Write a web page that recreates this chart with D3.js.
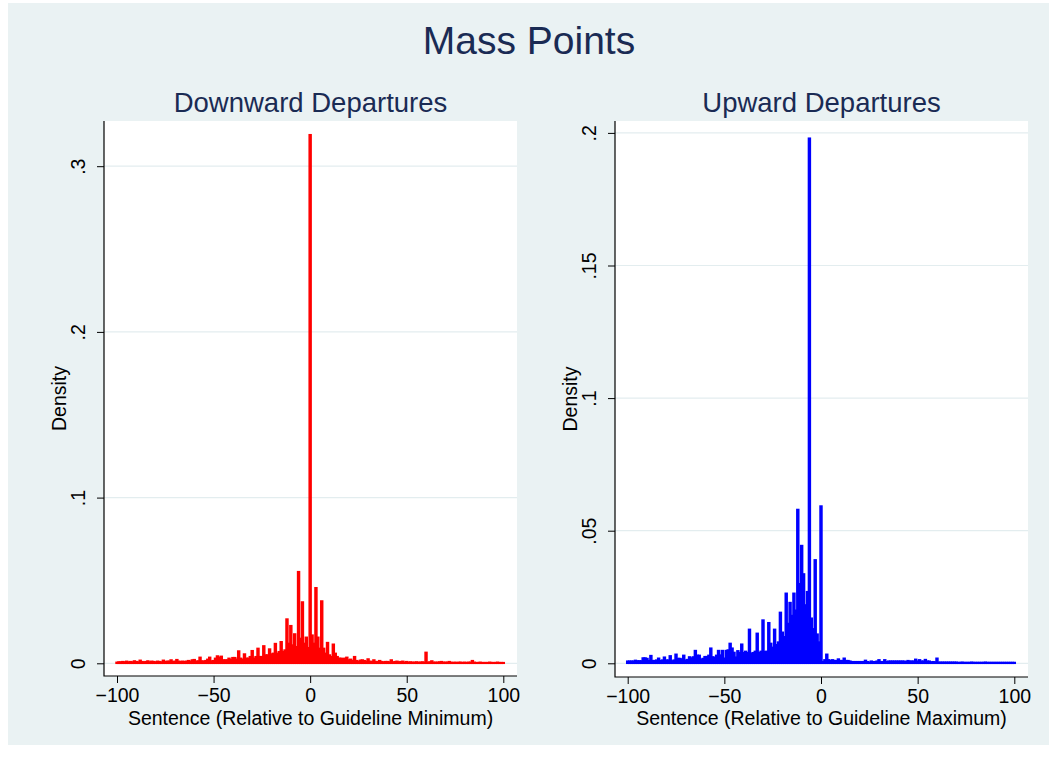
<!DOCTYPE html>
<html>
<head>
<meta charset="utf-8">
<script src="https://d3js.org/d3.v7.min.js"></script>
<style>
    body { margin: 0; background: #ffffff; }
    svg text { font-family: "Liberation Sans", Arial, Helvetica, sans-serif; }
</style>
</head>
<body>
<svg id="chart" width="1058" height="769"></svg>
<script>
//Values, one bar per integer from -100 to 100
var bins = d3.range(-100, 101);

//Downward departures, density per bin (relative to guideline minimum)
var downValues = [
    0.0006, 0.0008, 0.0008, 0.0010, 0.0008, 0.0012, 0.0008, 0.0010, 0.0008, 0.0014,
    0.0010, 0.0008, 0.0018, 0.0010, 0.0008, 0.0010, 0.0014, 0.0008, 0.0012, 0.0010,
    0.0008, 0.0012, 0.0010, 0.0008, 0.0018, 0.0010, 0.0012, 0.0012, 0.0020, 0.0010,
    0.0012, 0.0022, 0.0012, 0.0010, 0.0012, 0.0010, 0.0012, 0.0016, 0.0012, 0.0020,
    0.0022, 0.0012, 0.0014, 0.0036, 0.0014, 0.0012, 0.0016, 0.0024, 0.0036, 0.0014,
    0.0016, 0.0030, 0.0044, 0.0036, 0.0042, 0.0020, 0.0020, 0.0020, 0.0030, 0.0022,
    0.0034, 0.0034, 0.0024, 0.0074, 0.0030, 0.0024, 0.0056, 0.0030, 0.0030, 0.0040,
    0.0076, 0.0030, 0.0040, 0.0090, 0.0040, 0.0040, 0.0105, 0.0050, 0.0050, 0.0086,
    0.0056, 0.0060, 0.0119, 0.0060, 0.0070, 0.0130, 0.0070, 0.0080, 0.0267, 0.0120,
    0.0227, 0.0110, 0.0177, 0.0100, 0.0553, 0.0150, 0.0370, 0.0120, 0.0157, 0.0094,
    0.3190,
    0.0170, 0.0120, 0.0456, 0.0157, 0.0090, 0.0376, 0.0090, 0.0060, 0.0125, 0.0050,
    0.0040, 0.0115, 0.0060, 0.0040, 0.0030, 0.0030, 0.0028, 0.0030, 0.0036, 0.0020,
    0.0024, 0.0016, 0.0040, 0.0016, 0.0012, 0.0018, 0.0020, 0.0016, 0.0012, 0.0026,
    0.0012, 0.0010, 0.0020, 0.0010, 0.0010, 0.0016, 0.0010, 0.0008, 0.0010, 0.0010,
    0.0008, 0.0020, 0.0008, 0.0010, 0.0012, 0.0008, 0.0010, 0.0012, 0.0006, 0.0010,
    0.0006, 0.0008, 0.0006, 0.0006, 0.0008, 0.0006, 0.0006, 0.0008, 0.0006, 0.0066,
    0.0006, 0.0008, 0.0014, 0.0006, 0.0006, 0.0006, 0.0008, 0.0010, 0.0006, 0.0006,
    0.0006, 0.0010, 0.0006, 0.0004, 0.0006, 0.0004, 0.0006, 0.0006, 0.0004, 0.0006,
    0.0004, 0.0006, 0.0006, 0.0016, 0.0006, 0.0004, 0.0004, 0.0006, 0.0004, 0.0004,
    0.0004, 0.0004, 0.0006, 0.0004, 0.0004, 0.0004, 0.0006, 0.0004, 0.0004, 0.0004
];

//Upward departures, density per bin (relative to guideline maximum)
var upValues = [
    0.0008, 0.0008, 0.0008, 0.0008, 0.0011, 0.0009, 0.0009, 0.0009, 0.0020, 0.0020,
    0.0018, 0.0010, 0.0029, 0.0010, 0.0010, 0.0012, 0.0019, 0.0010, 0.0012, 0.0023,
    0.0012, 0.0012, 0.0028, 0.0009, 0.0012, 0.0034, 0.0018, 0.0018, 0.0016, 0.0030,
    0.0012, 0.0014, 0.0024, 0.0020, 0.0024, 0.0048, 0.0030, 0.0030, 0.0015, 0.0018,
    0.0025, 0.0025, 0.0030, 0.0057, 0.0024, 0.0022, 0.0030, 0.0048, 0.0031, 0.0048,
    0.0019, 0.0048, 0.0050, 0.0075, 0.0057, 0.0041, 0.0023, 0.0047, 0.0040, 0.0072,
    0.0040, 0.0045, 0.0040, 0.0128, 0.0038, 0.0040, 0.0045, 0.0113, 0.0040, 0.0045,
    0.0163, 0.0044, 0.0045, 0.0153, 0.0075, 0.0060, 0.0128, 0.0070, 0.0080, 0.0192,
    0.0117, 0.0100, 0.0264, 0.0150, 0.0229, 0.0180, 0.0264, 0.0200, 0.0580, 0.0300,
    0.0444, 0.0337, 0.0220, 0.0270, 0.1980, 0.0170, 0.0130, 0.0390, 0.0110, 0.0080,
    0.0593,
    0.0006, 0.0013, 0.0034, 0.0013, 0.0010, 0.0013, 0.0010, 0.0010, 0.0016, 0.0010,
    0.0010, 0.0019, 0.0010, 0.0010, 0.0008, 0.0006, 0.0006, 0.0006, 0.0006, 0.0006,
    0.0006, 0.0006, 0.0011, 0.0006, 0.0004, 0.0008, 0.0006, 0.0006, 0.0008, 0.0013,
    0.0006, 0.0006, 0.0013, 0.0006, 0.0008, 0.0008, 0.0008, 0.0008, 0.0008, 0.0008,
    0.0008, 0.0008, 0.0008, 0.0006, 0.0010, 0.0008, 0.0008, 0.0008, 0.0015, 0.0008,
    0.0013, 0.0008, 0.0008, 0.0014, 0.0008, 0.0008, 0.0005, 0.0006, 0.0005, 0.0019,
    0.0004, 0.0004, 0.0004, 0.0004, 0.0004, 0.0004, 0.0004, 0.0004, 0.0004, 0.0004,
    0.0003, 0.0003, 0.0004, 0.0003, 0.0003, 0.0003, 0.0003, 0.0004, 0.0003, 0.0003,
    0.0003, 0.0003, 0.0003, 0.0003, 0.0004, 0.0003, 0.0003, 0.0003, 0.0003, 0.0003,
    0.0003, 0.0003, 0.0003, 0.0003, 0.0003, 0.0003, 0.0003, 0.0003, 0.0003, 0.0003
];

var xTicks = [-100, -50, 0, 50, 100];
var downYTicks = [0, 0.1, 0.2, 0.3];
var upYTicks = [0, 0.05, 0.1, 0.15, 0.2];

var mainTitle = "Mass Points";
var panelTitles = ["Downward Departures", "Upward Departures"];
var xTitles = ["Sentence (Relative to Guideline Minimum)", "Sentence (Relative to Guideline Maximum)"];

var bgColor = "#eaf2f3";
var titleColor = "#1a2b54";

var svg = d3.select("#chart");

//Stata style light bluish graph region, with the page's white margin round it
svg.append("rect")
    .attr("x", 8).attr("y", 3)
    .attr("width", 1041).attr("height", 742)
    .attr("fill", bgColor);

svg.append("text")
    .text(mainTitle)
    .attr("x", 529)
    .attr("y", 54)
    .attr("text-anchor", "middle")
    .attr("font-size", 39)
    .attr("fill", titleColor);

//Stata drops the leading zero on the density labels
function stataNum(d){
    if(d == 0) return "0";
    return d3.format("~g")(d).replace(/^0\./, ".");
}

//Draws one histogram panel
function drawPanel(opts){
    var g = svg.append("g");
    var x0 = opts.box[0], y0 = opts.box[1], x1 = opts.box[2], y1 = opts.box[3];

    var x = d3.scaleLinear().domain([-100, 100]).range(opts.xRange);
    var y = d3.scaleLinear().domain(opts.yDomain).range(opts.yRange);

    //white plot region
    g.append("rect")
        .attr("x", x0).attr("y", y0)
        .attr("width", x1 - x0).attr("height", y1 - y0)
        .attr("fill", "#ffffff");

    //horizontal grid at each y tick
    g.selectAll(".grid")
        .data(opts.yTicks)
        .enter().append("line")
        .attr("x1", x0).attr("x2", x1)
        .attr("y1", function(d){ return y(d); })
        .attr("y2", function(d){ return y(d); })
        .attr("stroke", "#e3edef")
        .attr("stroke-width", 1.2);

    //bars, one per integer value
    g.selectAll(".bar")
        .data(opts.values)
        .enter().append("rect")
        .attr("x", function(d, i){ return x(bins[i] - 0.5); })
        .attr("width", function(d, i){ return x(bins[i] + 0.5) - x(bins[i] - 0.5); })
        .attr("y", function(d){ return y(d); })
        .attr("height", function(d){ return y(0) - y(d); })
        .attr("fill", opts.color)
        .attr("stroke", opts.color)
        .attr("stroke-width", 1.5);

    //y axis
    var yAxis = d3.axisLeft(y)
        .tickValues(opts.yTicks)
        .tickSize(7)
        .tickPadding(0)
        .tickFormat(stataNum);
    var ya = g.append("g")
        .attr("transform", "translate(" + x0 + ",0)")
        .call(yAxis);
    ya.select(".domain").remove();
    ya.selectAll(".tick line").attr("stroke", "#000").attr("stroke-width", 1);
    ya.selectAll(".tick text")
        .attr("x", null).attr("dy", null)
        .attr("text-anchor", "middle")
        .attr("transform", "translate(-19,0) rotate(-90)")
        .attr("font-size", 19.5)
        .attr("fill", "#000");

    //x axis
    var xAxis = d3.axisBottom(x)
        .tickValues(xTicks)
        .tickSize(7)
        .tickPadding(0);
    var xa = g.append("g")
        .attr("transform", "translate(0," + y1 + ")")
        .call(xAxis);
    xa.select(".domain").remove();
    xa.selectAll(".tick line").attr("stroke", "#000").attr("stroke-width", 1);
    xa.selectAll(".tick text")
        .attr("y", 26).attr("dy", null)
        .attr("font-size", 19.5)
        .attr("fill", "#000");

    //axis lines along the plot region edges
    g.append("path")
        .attr("d", "M" + x0 + " " + y0 + " L" + x0 + " " + y1 + " L" + x1 + " " + y1)
        .attr("fill", "none")
        .attr("stroke", "#000")
        .attr("stroke-width", 1.2);

    g.append("text")
        .text("Density")
        .attr("transform", "translate(" + (x0 - 38) + "," + ((y0 + y1) / 2) + ") rotate(-90)")
        .attr("text-anchor", "middle")
        .attr("font-size", 19.5)
        .attr("fill", "#000");

    g.append("text")
        .text(opts.xTitle)
        .attr("x", (x0 + x1) / 2)
        .attr("y", 725)
        .attr("text-anchor", "middle")
        .attr("font-size", 19.5)
        .attr("fill", "#000");

    g.append("text")
        .text(opts.title)
        .attr("x", (x0 + x1) / 2)
        .attr("y", 112)
        .attr("text-anchor", "middle")
        .attr("font-size", 27.5)
        .attr("fill", titleColor);
}

drawPanel({
    box: [104, 121, 517, 676],
    xRange: [117, 503.3],
    yDomain: [0, 0.3],
    yRange: [663.3, 166.2],
    yTicks: downYTicks,
    values: downValues,
    color: "#ff0000",
    title: panelTitles[0],
    xTitle: xTitles[0]
});

drawPanel({
    box: [615, 121, 1028, 677],
    xRange: [627.7, 1014.3],
    yDomain: [0, 0.2],
    yRange: [663.3, 132.9],
    yTicks: upYTicks,
    values: upValues,
    color: "#0000ff",
    title: panelTitles[1],
    xTitle: xTitles[1]
});
</script>
</body>
</html>
